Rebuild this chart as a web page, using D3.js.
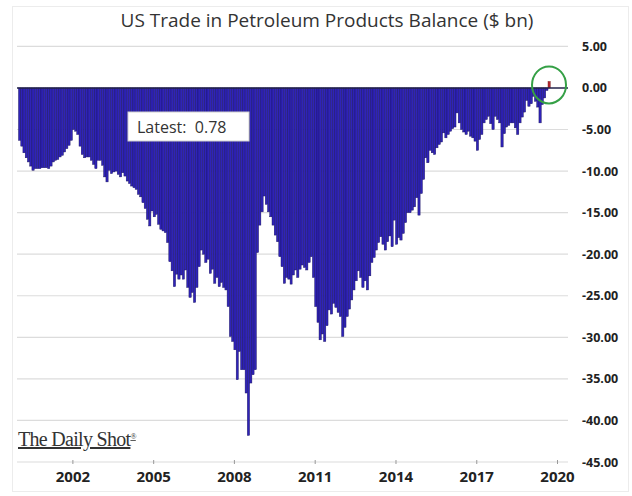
<!DOCTYPE html>
<html>
<head>
<meta charset="utf-8">
<script src="https://cdn.jsdelivr.net/npm/d3@7"></script>
<style>
  html, body { margin: 0; padding: 0; background: #fff; }
  svg { display: block; }
</style>
</head>
<body>
<svg id="chart" width="632" height="496"></svg>
<script>
// monthly petroleum trade balance, $ bn, Jan 2000 .. Sep 2019
const v2000 = [-6.3, -7.0, -7.8, -8.4, -8.9, -9.4, -9.9, -9.7, -9.7, -9.7, -9.6, -9.6];
const v2001 = [-9.6, -9.7, -9.4, -8.9, -8.7, -8.6, -8.3, -8.1, -7.7, -7.3, -6.9, -6.3];
const v2002 = [-5.0, -5.2, -5.6, -7.0, -8.0, -8.4, -8.3, -8.3, -8.7, -9.2, -9.7, -8.7];
const v2003 = [-8.7, -9.3, -10.7, -11.3, -9.9, -10.3, -10.1, -10.0, -10.4, -10.7, -10.2, -10.6];
const v2004 = [-11.2, -11.5, -11.8, -12.0, -12.2, -12.8, -13.1, -13.8, -14.5, -15.8, -16.6, -14.8];
const v2005 = [-15.5, -15.2, -16.4, -17.0, -17.2, -17.4, -18.6, -20.9, -22.0, -23.9, -22.4, -23.0];
const v2006 = [-22.5, -23.0, -21.9, -24.0, -25.2, -24.6, -25.8, -24.0, -21.5, -19.5, -20.0, -21.0];
const v2007 = [-20.6, -22.3, -21.8, -23.5, -22.8, -23.9, -23.4, -24.0, -24.3, -26.3, -29.9, -30.5];
const v2008 = [-31.5, -35.1, -31.7, -33.9, -33.9, -36.7, -41.8, -35.5, -34.5, -33.9, -19.8, -16.5];
const v2009 = [-14.9, -13.0, -14.0, -14.9, -15.5, -16.5, -17.7, -18.5, -20.3, -21.5, -23.5, -22.8];
const v2010 = [-23.0, -23.6, -22.5, -21.9, -22.8, -21.8, -21.3, -21.6, -21.9, -21.0, -20.3, -22.8];
const v2011 = [-26.3, -28.2, -30.3, -29.6, -30.5, -28.6, -26.7, -27.2, -25.9, -26.4, -27.0, -27.5];
const v2012 = [-29.9, -28.8, -27.5, -26.6, -25.5, -24.3, -23.2, -22.0, -22.8, -24.0, -23.2, -24.3];
const v2013 = [-22.6, -21.0, -20.4, -19.5, -18.6, -17.9, -18.8, -19.5, -18.5, -17.8, -19.1, -15.9];
const v2014 = [-18.8, -18.0, -18.3, -17.5, -16.2, -15.0, -15.0, -14.7, -14.3, -13.2, -15.3, -12.7];
const v2015 = [-11.0, -8.4, -9.0, -7.5, -7.8, -8.0, -7.2, -6.8, -6.5, -5.4, -6.0, -5.6];
const v2016 = [-5.2, -4.9, -4.7, -3.0, -4.2, -5.0, -5.3, -5.6, -5.2, -5.8, -6.0, -6.4];
const v2017 = [-7.5, -6.2, -5.6, -4.2, -3.8, -3.4, -4.3, -5.0, -3.4, -3.8, -4.2, -7.1];
const v2018 = [-5.5, -4.7, -4.5, -4.2, -4.2, -4.8, -5.6, -4.2, -3.5, -2.9, -1.5, -2.2];
const v2019 = [-1.9, -1.0, -1.6, -2.3, -4.2, -2.0, -1.2, -0.3, 0.78];

const yearTicks = [2002, 2005, 2008, 2011, 2014, 2017, 2020];
const yTicks = [5, 0, -5, -10, -15, -20, -25, -30, -35, -40, -45];
const latestLabel = "Latest:  0.78";

const values = [v2000, v2001, v2002, v2003, v2004, v2005, v2006, v2007, v2008, v2009,
  v2010, v2011, v2012, v2013, v2014, v2015, v2016, v2017, v2018, v2019].flat();
const data = values.map((v, i) => ({ date: new Date(2000, i, 1), value: v }));

const svg = d3.select('#chart');
const plotLeft = 17, plotRight = 568;

// light frame around the chart
svg.append('rect')
  .attr('x', 12.5).attr('y', 6.5).attr('width', 616).attr('height', 485)
  .attr('fill', 'none').attr('stroke', '#ececec');

const x = d3.scaleTime()
  .domain([new Date(2000, 0, 1), new Date(2020, 0, 1)])
  .range([18.5, 557]);
const y = d3.scaleLinear().domain([-45, 5]).range([462, 46.4]);

// gridlines
svg.append('g').selectAll('line.grid').data(yTicks.filter(d => d !== 0))
  .enter().append('line')
  .attr('class', 'grid')
  .attr('x1', plotLeft).attr('x2', plotRight)
  .attr('y1', d => y(d)).attr('y2', d => y(d))
  .attr('stroke', '#dcdcdc').attr('stroke-width', 1.2);

// bars
svg.append('g').selectAll('rect.bar').data(data)
  .enter().append('rect')
  .attr('class', 'bar')
  .attr('x', d => x(d.date))
  .attr('width', d => x(d3.timeMonth.offset(d.date, 1)) - x(d.date))
  .attr('y', d => y(Math.max(0, d.value)))
  .attr('height', d => Math.abs(y(d.value) - y(0)))
  .attr('fill', (d, i) => i === data.length - 1 ? '#b3262e' : '#2f23b8')
  .attr('stroke', (d, i) => i === data.length - 1 ? '#7a1a1f' : '#19135e')
  .attr('stroke-width', 0.45);

// zero line
svg.append('line')
  .attr('x1', plotLeft).attr('x2', plotRight)
  .attr('y1', y(0)).attr('y2', y(0))
  .attr('stroke', '#22224a').attr('stroke-width', 1.4);

// x axis
const xAxis = d3.axisBottom(x)
  .tickValues(yearTicks.map(yr => new Date(yr, 0, 1)))
  .tickFormat(d3.timeFormat('%Y'))
  .tickSizeInner(4).tickSizeOuter(0).tickPadding(7);
const xAxisG = svg.append('g')
  .attr('transform', `translate(0,${y(-45) - 2})`)
  .call(xAxis);
xAxisG.select('.domain').remove();
xAxisG.selectAll('line').attr('stroke', '#999');
xAxisG.selectAll('text')
  .style('font-family', 'Open Sans, sans-serif')
  .style('font-size', '15px')
  .style('font-weight', 700)
  .attr('fill', '#222');

// y axis on the right
const yAxis = d3.axisRight(y)
  .tickValues(yTicks)
  .tickFormat(d => d.toFixed(2))
  .tickSize(0).tickPadding(0);
const yAxisG = svg.append('g')
  .attr('transform', 'translate(582,0)')
  .call(yAxis);
yAxisG.select('.domain').remove();
yAxisG.selectAll('text')
  .style('font-family', 'Open Sans, sans-serif')
  .style('font-size', '12.5px')
  .style('font-weight', 700)
  .attr('fill', '#222');

// title
svg.append('text')
  .attr('x', 327).attr('y', 27)
  .attr('text-anchor', 'middle')
  .text('US Trade in Petroleum Products Balance ($ bn)')
  .style('font-family', 'Open Sans, sans-serif')
  .style('font-size', '19px')
  .attr('fill', '#333');

// latest value box
svg.append('rect')
  .attr('x', 128).attr('y', 112).attr('width', 121).attr('height', 29)
  .attr('fill', '#fff').attr('stroke', '#d0d0d0');
svg.append('text')
  .attr('x', 137).attr('y', 133)
  .attr('xml:space', 'preserve')
  .style('white-space', 'pre')
  .text(latestLabel)
  .style('font-family', 'Open Sans, sans-serif')
  .style('font-size', '16px')
  .attr('fill', '#333');

// green circle around the latest bar
const last = data[data.length - 1];
svg.append('ellipse')
  .attr('cx', x(last.date) + 1).attr('cy', y(0) - 3)
  .attr('rx', 17).attr('ry', 18.5)
  .attr('fill', 'none').attr('stroke', '#35a046').attr('stroke-width', 2);

// logo
const logo = svg.append('text')
  .attr('x', 18).attr('y', 446)
  .style('font-family', 'Liberation Serif, serif')
  .style('font-size', '20px')
  .style('letter-spacing', '-0.7px')
  .style('text-decoration', 'underline')
  .attr('fill', '#333');
logo.append('tspan').text('The Daily Shot');
logo.append('tspan').attr('dy', -7).style('font-size', '8px').style('text-decoration', 'none').text('®');
</script>
</body>
</html>
